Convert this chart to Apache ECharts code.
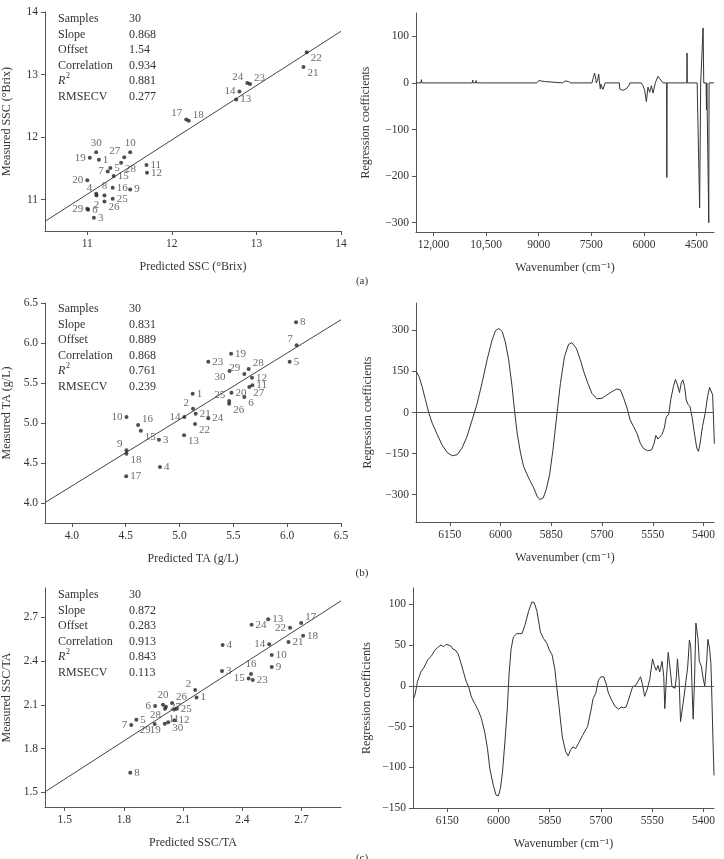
<!DOCTYPE html>
<html><head><meta charset="utf-8">
<script src="https://cdn.jsdelivr.net/npm/echarts@6/dist/echarts.min.js"></script>
<style>html,body{margin:0;padding:0;background:#fff}#c{width:724px;height:859px}</style>
</head><body><div id="c"></div>
<script>
// ---------- Data ----------
// (a) SSC
const sscPred = [11.137,11.109,11.078,11.105,11.273,11.01,11.242,11.203,11.507,11.507,11.70,11.706,12.76,12.799,11.312,11.30,12.17,12.2,11.03,11.0,13.556,13.595,12.924,12.892,11.30,11.203,11.437,11.40,11.0,11.105];
const sscMeas = [11.638,11.069,10.713,11.096,11.505,10.84,11.45,11.069,11.165,11.76,11.553,11.431,12.601,12.729,11.377,11.19,12.282,12.261,11.67,11.31,13.122,13.356,12.851,12.867,11.016,10.973,11.68,11.59,10.856,11.76];
const sscStats = ['30','0.868','1.54','0.934','0.881','0.277'];
// (b) TA
const taPred = [5.122,5.125,4.809,4.818,6.023,5.602,6.088,6.082,4.507,4.507,5.676,5.673,5.042,5.045,4.64,4.615,4.504,4.507,5.479,5.482,5.15,5.144,5.267,5.267,5.461,5.461,5.648,5.642,5.602,5.464];
const taMeas = [5.367,5.179,4.792,4.45,5.767,5.325,5.971,6.258,4.658,5.075,5.471,5.567,4.846,5.075,4.904,4.975,4.333,4.617,5.867,5.379,5.117,4.988,5.767,5.058,5.275,5.242,5.45,5.675,5.613,5.65];
const taStats = ['30','0.831','0.889','0.868','0.761','0.239'];
// (c) SSC/TA
const ratioPred = [2.168,2.161,2.297,2.3,1.863,1.958,1.837,1.832,2.549,2.549,2.054,2.056,2.531,2.536,2.432,2.444,2.698,2.708,2.007,1.998,2.634,2.642,2.453,2.447,2.068,2.044,2.013,2.008,1.956,2.024];
const ratioMeas = [2.15,2.202,2.332,2.509,1.998,2.091,1.961,1.634,2.359,2.441,2.068,1.995,2.686,2.514,2.28,2.311,2.661,2.573,1.97,2.1,2.53,2.627,2.27,2.648,2.073,2.113,2.086,2.073,1.968,1.981];
const ratioStats = ['30','0.872','0.283','0.913','0.843','0.113'];
const statNames = ['Samples','Slope','Offset','Correlation','R','RMSECV'];

// Spectra (regression coefficients vs wavenumber)
const wnA = [12500,12360,12345,12330,11010,10997,10985,10895,10883,10870,10800,10786,10772,10625,10614,10600,9060,9030,8990,8950,8920,8880,8840,8800,8320,8290,8250,8150,8090,8070,7480,7440,7406,7370,7357,7320,7290,7270,7243,7225,7214,7190,7169,7120,7105,6700,6690,6600,6540,6480,6430,6400,6075,6026,5977,5929,5883,5834,5786,5740,5671,5597,5549,5500,5454,5352,5345,5338,4775,4769,4763,4480,4410,4380,4330,4311,4292,4225,4214,4205,4160,4149,4140,4000];
const coefA = [0,0,7,0,0,4,0,0,6,0,0,5,0,0,4,0,0,4,5,3,4,1,3,0,0,4,4,3,0,0,0,12,21,8,0,5,19,5,-13,-3,0,-2,-14,-16,0,0,-13,-16,-14,-11,-6,0,0,-6,-16,-40,-9,-20,-6,-22,1,14,9,10,0,0,-203,0,0,64,0,0,-268,0,0,118,0,0,-58,0,0,-300,0,0];

const wnB = [6249,6241,6232,6222,6212,6202,6187,6173,6158,6143,6128,6114,6099,6084,6069,6055,6040,6025,6015,6005,5995,5986,5976,5966,5959,5951,5941,5932,5917,5902,5892,5884,5874,5865,5855,5845,5833,5823,5811,5799,5789,5776,5764,5754,5742,5730,5715,5700,5686,5671,5656,5646,5636,5626,5617,5607,5597,5587,5577,5565,5553,5546,5541,5535,5531,5523,5516,5510,5503,5497,5489,5483,5477,5471,5466,5461,5456,5451,5446,5440,5434,5427,5420,5415,5410,5403,5395,5388,5382,5377,5373,5370,5368];
const coefB = [149,131,95,46,-2,-39,-81,-118,-146,-158,-154,-130,-87,-27,34,107,192,265,299,307,295,258,192,95,10,-75,-148,-197,-239,-275,-306,-318,-312,-282,-227,-136,-2,107,204,249,255,234,192,149,107,70,50,52,64,76,86,83,52,16,-27,-51,-75,-112,-132,-140,-136,-112,-84,-97,-100,-81,-57,-15,-8,46,95,121,101,73,107,119,95,46,30,22,-15,-75,-130,-142,-112,-51,-2,58,92,97,64,-39,-114];

const wnC = [6249,6244,6237,6227,6217,6207,6197,6187,6178,6168,6160,6153,6148,6140,6133,6126,6118,6109,6101,6094,6086,6079,6069,6059,6050,6040,6032,6025,6015,6007,6000,5994,5988,5981,5974,5969,5963,5956,5946,5931,5922,5912,5902,5895,5887,5877,5868,5858,5851,5843,5835,5830,5823,5813,5803,5796,5789,5782,5774,5766,5754,5739,5730,5723,5715,5707,5700,5692,5685,5678,5668,5659,5648,5641,5634,5626,5621,5613,5607,5599,5592,5584,5579,5572,5565,5557,5549,5543,5538,5533,5528,5521,5516,5513,5508,5503,5498,5492,5488,5483,5479,5476,5471,5467,5462,5457,5452,5446,5441,5437,5433,5430,5426,5422,5416,5412,5406,5400,5396,5390,5387,5382,5378,5375,5372,5369];
const coefC = [-16,-11,5,17,23,32,36,43,47,50,48,51,53,49,45,44,39,27,15,5,-3,-14,-22,-30,-40,-57,-77,-102,-122,-134,-135,-126,-106,-69,-28,13,45,60,64,64,75,91,103,102,91,66,58,52,44,38,21,1,-24,-63,-81,-86,-79,-75,-77,-71,-61,-50,-32,-16,-9,7,11,11,3,-9,-18,-25,-29,-26,-27,-26,-27,-9,-1,0,5,11,3,-13,-5,8,33,24,19,25,17,30,11,-28,11,41,23,-1,1,-3,11,33,7,-44,-45,-14,-16,23,56,48,-5,-41,7,77,58,30,24,7,0,32,57,46,27,-18,-67,-110];

// label placement codes (not data)
const sscLabelPos = ['r','b','r','tl','r','r','l','t','r','t','r','r','r','l','r','r','tl','tr','l','l','br','br','tr','tl','r','br','tl','br','l','t'];
const taLabelPos = ['r','tl','r','r','r','br','tl','r','tl','l','r','r','br','l','br','tr','r','br','r','r','r','br','r','r','tl','br','br','tr','tl','bl'];
const ratioLabelPos = ['r','tl','r','r','r','l','l','r','r','r','b','r','r','l','l','t','tr','r','bl','t','r','l','r','r','r','tr','r','bl','bl','br'];

// ---------- Chart ----------
const F = '"Liberation Serif","DejaVu Serif",serif';
const TXT = '#333';
const AX = '#555';
const minus = v => String(v).replace('-', '\u2212');

const grids = [
  {left:43, top:12, width:298, height:219},
  {left:416, top:13, width:298, height:219},
  {left:43, top:303, width:298, height:220},
  {left:416, top:303, width:298, height:219},
  {left:43, top:588, width:298, height:219},
  {left:413, top:588, width:301, height:220}
];

function axis(gi, min, max, vals, fmt, name, isY, inverse){
  const a = {
    type:'value', gridIndex:gi, min:min, max:max, inverse:!!inverse,
    axisLine:{show:true, onZero:false, lineStyle:{color:AX, width:1}},
    axisTick:{show:true, inside:false, length:4, lineStyle:{color:AX}, customValues:vals},
    axisLabel:{show:true, customValues:vals, formatter:fmt, color:TXT, fontFamily:F, fontSize:11.5, margin:7},
    splitLine:{show:false},
    name:name, nameLocation:'middle', nameGap: isY ? 32 : 30,
    nameTextStyle:{color:TXT, fontFamily:F, fontSize:12}
  };
  if (isY) a.nameRotate = 90;
  return a;
}

const xAxes = [
  axis(0,10.5,14,[11,12,13,14],v=>String(v),'Predicted SSC (°Brix)'),
  axis(1,4000,12500,[4500,6000,7500,9000,10500,12000],v=> v>=10000 ? String(v).replace(/(\d\d)(\d{3})$/,'$1,$2') : String(v),'Wavenumber (cm\u207B\u00B9)',false,true),
  axis(2,3.75,6.5,[4,4.5,5,5.5,6,6.5],v=>v.toFixed(1),'Predicted TA (g/L)'),
  axis(3,5369,6250,[5400,5550,5700,5850,6000,6150],v=>String(v),'Wavenumber (cm\u207B\u00B9)',false,true),
  axis(4,1.4,2.9,[1.5,1.8,2.1,2.4,2.7],v=>v.toFixed(1),'Predicted SSC/TA'),
  axis(5,5369,6250,[5400,5550,5700,5850,6000,6150],v=>String(v),'Wavenumber (cm\u207B\u00B9)',false,true)
];
const yAxes = [
  axis(0,10.5,14,[11,12,13,14],v=>String(v),'Measured SSC (°Brix)',true),
  axis(1,-320,150,[-300,-200,-100,0,100],minus,'Regression coefficients',true),
  axis(2,3.75,6.5,[4,4.5,5,5.5,6,6.5],v=>v.toFixed(1),'Measured TA (g/L)',true),
  axis(3,-400,400,[-300,-150,0,150,300],minus,'Regression coefficients',true),
  axis(4,1.4,2.9,[1.5,1.8,2.1,2.4,2.7],v=>v.toFixed(1),'Measured SSC/TA',true),
  axis(5,-150,120,[-150,-100,-50,0,50,100],minus,'Regression coefficients',true)
];
yAxes[1].nameGap = 44; yAxes[3].nameGap = 42; yAxes[5].nameGap = 40;

const posMap = {r:['right',[0,0]], l:['left',[0,0]], t:['top',[0,0]], b:['bottom',[0,0]],
  tr:['right',[0,-6]], tl:['left',[0,-6]], br:['right',[0,6]], bl:['left',[0,6]]};

function scatterSeries(gi, pred, meas, pos){
  return {
    type:'scatter', xAxisIndex:gi, yAxisIndex:gi, symbolSize:4, z:4,
    itemStyle:{color:'#222'},
    label:{show:true, distance:2, fontSize:11, color:'#444', fontFamily:F,
      formatter:p=>String(p.dataIndex+1)},
    data: pred.map((x,k)=>({value:[x,meas[k]], label:{position:posMap[pos[k]][0], offset:posMap[pos[k]][1]}}))
  };
}
function fitSeries(gi, stats, xmin, xmax){
  const s = parseFloat(stats[1]), o = parseFloat(stats[2]);
  return {type:'line', xAxisIndex:gi, yAxisIndex:gi, symbol:'none', silent:true, z:2,
    lineStyle:{color:'#444', width:1},
    data:[[xmin, s*xmin+o],[xmax, s*xmax+o]]};
}
function specSeries(gi, wn, coef, zeroLine){
  const s = {type:'line', xAxisIndex:gi, yAxisIndex:gi, symbol:'none', silent:true,
    lineStyle:{color:'#333', width:1},
    data: wn.map((w,k)=>[w, coef[k]])};
  if (zeroLine) s.markLine = {silent:true, symbol:'none', label:{show:false},
    lineStyle:{color:'#555', width:1, type:'solid'}, data:[{yAxis:0}]};
  return s;
}

const graphics = [];
function addStats(top, vals){
  statNames.forEach((n,k)=>{
    const y = top + k*15.5;
    if (n === 'R') {
      graphics.push({type:'text', x:58, y:y, style:{text:'R', font:'italic 12px '+F, fill:TXT, verticalAlign:'middle'}});
      graphics.push({type:'text', x:66, y:y-5, style:{text:'2', font:'8px '+F, fill:TXT, verticalAlign:'middle'}});
    } else {
      graphics.push({type:'text', x:58, y:y, style:{text:n, font:'12px '+F, fill:TXT, verticalAlign:'middle'}});
    }
    graphics.push({type:'text', x:129, y:y, style:{text:vals[k], font:'12px '+F, fill:TXT, verticalAlign:'middle'}});
  });
}
addStats(19, sscStats);
addStats(309, taStats);
addStats(595, ratioStats);
[['(a)',281],['(b)',573],['(c)',858]].forEach(([t,y])=>{
  graphics.push({type:'text', x:362, y:y, style:{text:t, font:'11px '+F, fill:TXT, align:'center', verticalAlign:'middle'}});
});

const chart = echarts.init(document.getElementById('c'), null, {renderer:'canvas'});
chart.setOption({
  animation:false,
  backgroundColor:'#fff',
  textStyle:{fontFamily:F},
  grid: grids,
  xAxis: xAxes,
  yAxis: yAxes,
  series: [
    fitSeries(0, sscStats, 10.5, 14),
    scatterSeries(0, sscPred, sscMeas, sscLabelPos),
    specSeries(1, wnA, coefA, false),
    fitSeries(2, taStats, 3.75, 6.5),
    scatterSeries(2, taPred, taMeas, taLabelPos),
    specSeries(3, wnB, coefB, true),
    fitSeries(4, ratioStats, 1.4, 2.9),
    scatterSeries(4, ratioPred, ratioMeas, ratioLabelPos),
    specSeries(5, wnC, coefC, true)
  ],
  graphic: graphics
});
</script>
</body></html>
